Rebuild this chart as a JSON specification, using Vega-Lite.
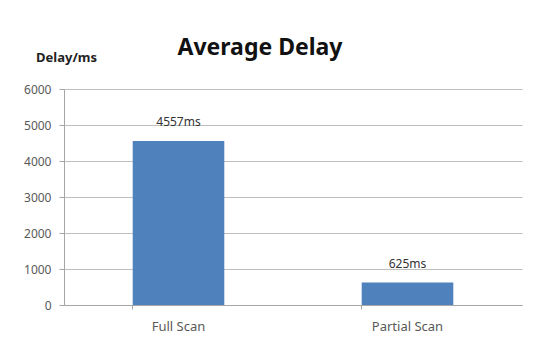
{
  "$schema": "https://vega.github.io/schema/vega-lite/v6.json",
  "width": 458,
  "height": 216,
  "autosize": "none",
  "padding": {"left": 64, "top": 89, "right": 13, "bottom": 38},
  "background": "white",
  "title": {
    "text": "Average Delay",
    "font": "Noto Sans",
    "fontSize": 23,
    "fontWeight": "bold",
    "color": "#111111",
    "anchor": "middle",
    "baseline": "alphabetic",
    "dx": -33,
    "offset": -27
  },
  "data": {
    "values": [
      {"scan": "Full Scan", "delay": 4557, "label": "4557ms"},
      {"scan": "Partial Scan", "delay": 625, "label": "625ms"}
    ]
  },
  "encoding": {
    "x": {
      "field": "scan",
      "type": "nominal",
      "sort": null,
      "scale": {"paddingInner": 0.6, "paddingOuter": 0.3},
      "axis": {
        "title": null,
        "labelAngle": 0,
        "labelFont": "Noto Sans",
        "labelFontSize": 13,
        "labelColor": "#595959",
        "labelPadding": 11,
        "tickSize": 4,
        "tickColor": "#a6a6a6",
        "domainColor": "#a6a6a6",
        "bandPosition": 0,
        "grid": false
      }
    },
    "y": {
      "field": "delay",
      "type": "quantitative",
      "scale": {"domain": [0, 6000]},
      "axis": {
        "values": [0, 1000, 2000, 3000, 4000, 5000, 6000],
        "title": "Delay/ms",
        "titleAngle": 0,
        "titleAlign": "center",
        "titleBaseline": "middle",
        "titleX": 2,
        "titleY": -32,
        "titleFont": "Noto Sans",
        "titleFontSize": 13,
        "titleFontWeight": "bold",
        "titleColor": "#222222",
        "labelFont": "Noto Sans",
        "labelFontSize": 12,
        "labelColor": "#595959",
        "labelPadding": 8,
        "tickSize": 5,
        "tickColor": "#a6a6a6",
        "domainColor": "#a6a6a6",
        "grid": true,
        "gridColor": "#bfbfbf",
        "format": "d"
      }
    }
  },
  "layer": [
    {"mark": {"type": "bar", "color": "#4f81bd"}},
    {
      "mark": {"type": "text", "baseline": "bottom", "dy": -12, "font": "Noto Sans", "fontSize": 12, "color": "#333333"},
      "encoding": {"text": {"field": "label"}}
    }
  ],
  "config": {"view": {"stroke": null}}
}
